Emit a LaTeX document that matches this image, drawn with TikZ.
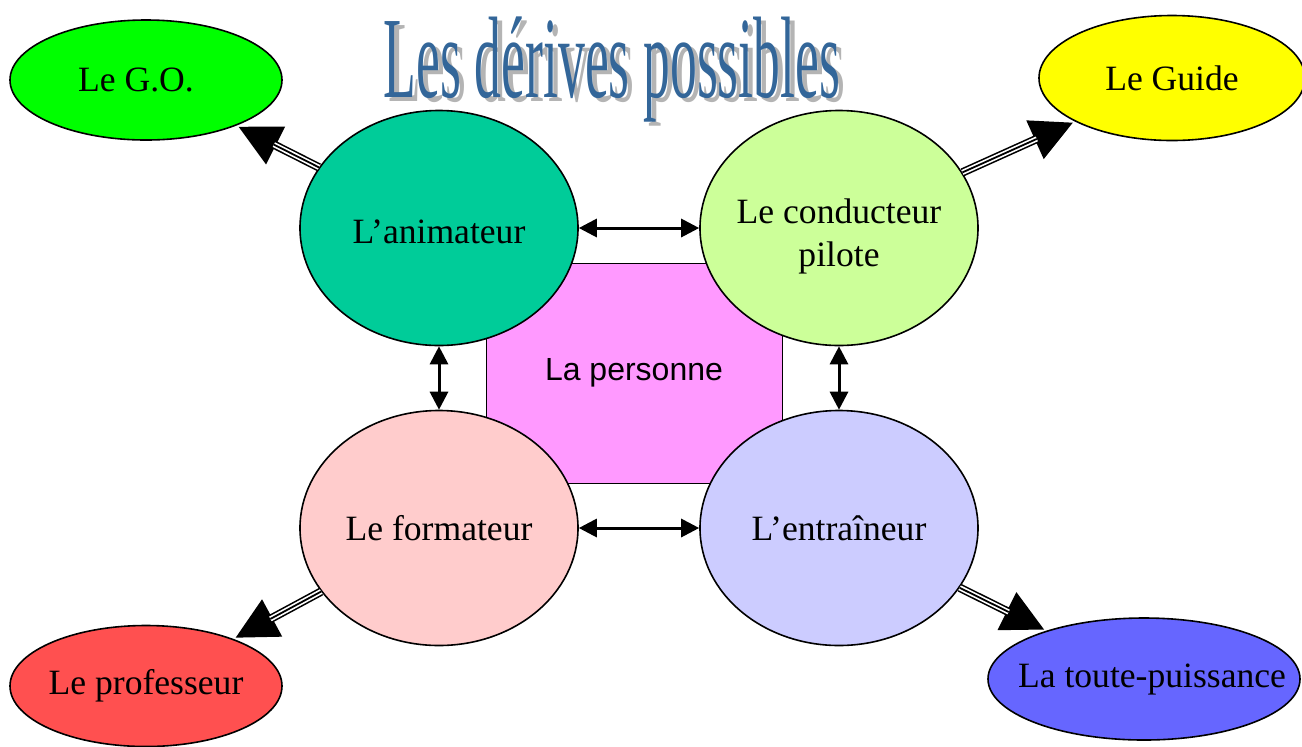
\documentclass[tikz,border=0pt]{standalone}
\usepackage{fontspec}
\setmainfont{Liberation Serif}
\newfontfamily\arial{Liberation Sans}
\usetikzlibrary{shapes.geometric, arrows.meta, positioning}

\definecolor{goc}{HTML}{00FF00}
\definecolor{guidec}{HTML}{FFFF00}
\definecolor{animc}{HTML}{00CC99}
\definecolor{condc}{HTML}{CCFF99}
\definecolor{formc}{HTML}{FFCCCC}
\definecolor{entrc}{HTML}{CCCCFF}
\definecolor{profc}{HTML}{FF5050}
\definecolor{toutec}{HTML}{6666FF}
\definecolor{personc}{HTML}{FF99FF}
\definecolor{titlec}{HTML}{336699}
\definecolor{shadowc}{HTML}{B4B4B4}

\newcommand\rolefont{\fontsize{17.8}{21.5}\selectfont}
\newcommand\titletext{\scalebox{0.463}[1]{\fontsize{58}{60}\selectfont Les dérives possibles}}

\tikzset{
  role/.style = {draw, ellipse, inner sep=0pt, minimum width=139pt, minimum height=117.5pt, fill=#1},
  drift/.style = {draw, ellipse, inner sep=0pt, minimum width=136pt, minimum height=60pt, fill=#1},
  every label/.style = {font=\rolefont, align=center, inner sep=0pt},
  link/.style = {line width=1.5pt, {Triangle[length=9pt,width=9pt]}-{Triangle[length=9pt,width=9pt]}}
}

% triple line with a big head
\newcommand\derive[2]{%
  \draw[line width=4.2pt, -{Triangle[length=21pt,width=20pt]}, shorten >=1pt] (#1) -- (#2);
  \draw[white, line width=2.6pt, shorten >=21pt] (#1) -- (#2);
  \draw[line width=0.9pt, shorten >=21pt] (#1) -- (#2);
}

\begin{document}
\begin{tikzpicture}[x=0.5pt, y=-0.5pt, node distance=200pt, thick]
  \useasboundingbox (0,0) rectangle (1302,746);
  \clip (0,0) rectangle (1302,746);

  % title
  \node[shadowc, anchor=base] (titleshadow) at (617,101) {\titletext};
  \node[titlec, anchor=base] (title) at (612,97) {\titletext};

  % centre
  \node[draw, thin, fill=personc, minimum width=148pt, minimum height=110pt, font=\arial\fontsize{16}{19}\selectfont] (person) at (634,373) {La personne};

  \node[role=animc, label={[yshift=-2pt]center:L’animateur}] (anim) at (439,228) {};
  \node[role=condc, label={[yshift=-4pt]center:Le conducteur\\pilote}] (cond) [right of = anim] {};
  \node[role=formc, label={center:Le formateur}] (form) [below of = anim, node distance=150pt] {};
  \node[role=entrc, label={center:L’entraîneur}] (entr) [right of = form] {};

  \node[drift=goc, label={[xshift=-5pt]center:Le G.O.}] (go) at (146,80) {};
  \node[drift=guidec, minimum width=133pt, minimum height=62.5pt, label={center:Le Guide}] (guide) at (1172,78) {};
  \node[drift=profc, minimum height=60.5pt, label={center:Le professeur}] (prof) at (146,686) {};
  \node[drift=toutec, minimum width=156pt, minimum height=61pt, label={[xshift=4pt]center:La toute-puissance}] (toute) at (1144,679) {};

  \draw[link] (anim) -- (cond);
  \draw[link] (form) -- (entr);
  \draw[link] (anim) -- (form);
  \draw[link] (cond) -- (entr);

  \derive{anim}{go}
  \derive{cond}{guide}
  \derive{form}{prof}
  \derive{entr}{toute}
\end{tikzpicture}
\end{document}
